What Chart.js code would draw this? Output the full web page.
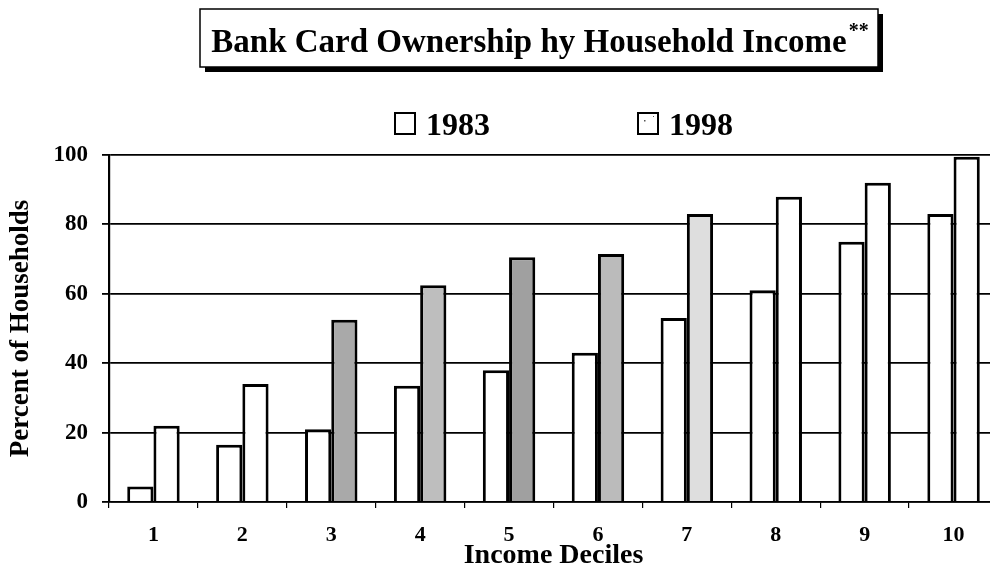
<!DOCTYPE html>
<html>
<head>
<meta charset="utf-8">
<title>Bank Card Ownership by Household Income</title>
<script src="https://cdn.jsdelivr.net/npm/chart.js@4/dist/chart.umd.min.js"></script>
<style>
  html, body { margin: 0; padding: 0; background: #fff; overflow: hidden; }
  #wrap { width: 1000px; height: 570px; }
</style>
</head>
<body>
<div id="wrap"><canvas id="chart" width="1000" height="570"></canvas></div>
<script>
// values (percent of households)
const deciles = ['1', '2', '3', '4', '5', '6', '7', '8', '9', '10'];
const share1983 = [4.5, 16.5, 21, 33.5, 38, 43, 53, 61, 75, 83];
const share1998 = [22, 34, 52.5, 62.5, 70.5, 71.5, 83, 88, 92, 99.5];
const yTicks = [0, 20, 40, 60, 80, 100];

// the scan shades some 1998 bars grey, others are left white
const fill1998 = ['#ffffff', '#ffffff', '#a9a9a9', '#bebebe', '#a0a0a0', '#bbbbbb', '#dedede', '#ffffff', '#ffffff', '#ffffff'];

const SERIF = '"Liberation Serif", "Times New Roman", serif';

// boxed title + hand placed legend, like the original
const decorations = {
    id: 'decorations',
    afterDraw(chart) {
        const ctx = chart.ctx;
        ctx.save();

        // title box with drop shadow
        const bx = 200, by = 9, bw = 678, bh = 58;
        ctx.fillStyle = '#000';
        ctx.fillRect(bx + 5, by + 5, bw, bh);
        ctx.fillStyle = '#fff';
        ctx.fillRect(bx, by, bw, bh);
        ctx.strokeStyle = '#000';
        ctx.lineWidth = 1.5;
        ctx.strokeRect(bx, by, bw, bh);

        const title = 'Bank Card Ownership hy Household Income';
        ctx.font = 'bold 33px ' + SERIF;
        ctx.textBaseline = 'alphabetic';
        ctx.textAlign = 'left';
        const tw = ctx.measureText(title).width;
        ctx.font = 'bold 20px ' + SERIF;
        const sw = ctx.measureText('**').width;
        const tx = bx + (bw - tw - sw) / 2;
        ctx.fillStyle = '#000';
        ctx.font = 'bold 33px ' + SERIF;
        ctx.fillText(title, tx, 52);
        ctx.font = 'bold 20px ' + SERIF;
        ctx.fillText('**', tx + tw + 2, 37);

        // legend
        const items = [
            { text: chart.data.datasets[0].label, x: 395 },
            { text: chart.data.datasets[1].label, x: 638 }
        ];
        ctx.font = 'bold 32px ' + SERIF;
        items.forEach((it, i) => {
            ctx.fillStyle = '#fff';
            ctx.fillRect(it.x, 113, 20, 21);
            ctx.strokeStyle = '#000';
            ctx.lineWidth = 2;
            ctx.strokeRect(it.x, 113, 20, 21);
            if (i === 1) {
                ctx.fillStyle = '#555';
                ctx.fillRect(it.x + 6, 120, 1.5, 1.5);
                ctx.fillRect(it.x + 15, 116, 1, 1);
            }
            ctx.fillStyle = '#000';
            ctx.fillText(it.text, it.x + 31, 135);
        });

        ctx.restore();
    }
};

new Chart(document.getElementById('chart').getContext('2d'), {
    type: 'bar',
    data: {
        labels: deciles,
        datasets: [
            {
                label: '1983',
                data: share1983,
                backgroundColor: '#ffffff',
                borderColor: '#000000',
                borderWidth: 3,
                borderSkipped: 'start'
            },
            {
                label: '1998',
                data: share1998,
                backgroundColor: fill1998,
                borderColor: '#000000',
                borderWidth: 3,
                borderSkipped: 'start'
            }
        ]
    },
    options: {
        responsive: false,
        animation: false,
        devicePixelRatio: 1,
        categoryPercentage: 0.59,
        barPercentage: 1,
        layout: { padding: { top: 155, right: 2, left: 0, bottom: 0 } },
        plugins: {
            legend: { display: false },
            title: { display: false },
            tooltip: { enabled: false }
        },
        scales: {
            x: {
                grid: {
                    offset: true,
                    drawOnChartArea: false,
                    drawTicks: true,
                    tickLength: 6,
                    color: '#000',
                    lineWidth: 1.2
                },
                border: { display: true, color: '#000', width: 1.5 },
                ticks: {
                    color: '#000',
                    padding: 16,
                    font: { family: SERIF, size: 22, weight: 'bold', lineHeight: 1 },
                    maxRotation: 0
                },
                title: {
                    display: true,
                    text: 'Income Deciles',
                    color: '#000',
                    padding: { top: 0, bottom: 0 },
                    font: { family: SERIF, size: 28, weight: 'bold', lineHeight: 1 }
                },
                afterFit(scale) { scale.height = 68; }
            },
            y: {
                min: 0,
                max: 100,
                afterBuildTicks(scale) { scale.ticks = yTicks.map(v => ({ value: v })); },
                grid: {
                    color: '#000',
                    lineWidth: 1.8,
                    drawTicks: true,
                    tickLength: 7
                },
                border: { display: true, color: '#000', width: 2.2 },
                ticks: {
                    color: '#000',
                    padding: 14,
                    font: { family: SERIF, size: 23, weight: 'bold', lineHeight: 1 }
                },
                title: {
                    display: true,
                    text: 'Percent of Households',
                    color: '#000',
                    padding: { top: 8, bottom: 0 },
                    font: { family: SERIF, size: 27, weight: 'bold', lineHeight: 1 }
                },
                afterFit(scale) { scale.width = 109; }
            }
        }
    },
    plugins: [decorations]
});
</script>
</body>
</html>
